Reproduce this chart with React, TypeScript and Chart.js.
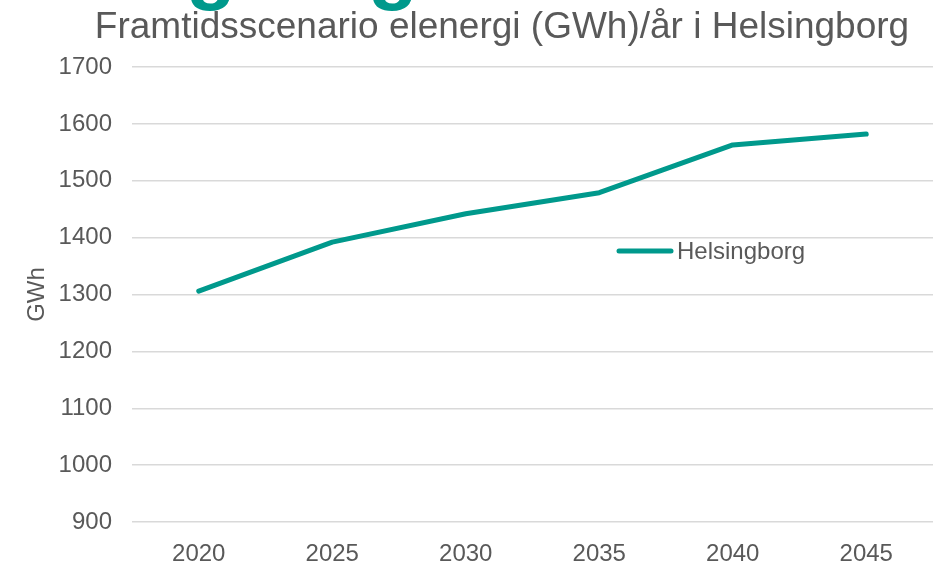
import React, { useEffect, useRef } from "react";
import { Chart, registerables } from "chart.js";

Chart.register(...registerables);

const years: string[] = ["2020", "2025", "2030", "2035", "2040", "2045"];
const helsingborg: number[] = [1306, 1392, 1442, 1479, 1563, 1582];
const seriesLabel = "Helsingborg";
const titleText = "Framtidsscenario elenergi (GWh)/år i Helsingborg";
const yAxisTitle = "GWh";
const yMin = 900;
const yMax = 1700;
const yStep = 100;
const backgroundGlyphs: string[] = ["g", "g"];

const FONT = "'Liberation Sans', Arial, sans-serif";
const TEXT = "#595959";
const TEAL = "#00998C";

const decorPlugin = {
  id: "decor",
  beforeDraw(chart: any) {
    const ctx = chart.ctx as CanvasRenderingContext2D;
    ctx.save();
    ctx.fillStyle = TEAL;
    ctx.font = `bold 82px ${FONT}`;
    ctx.textAlign = "center";
    ctx.textBaseline = "alphabetic";
    const xs = [211, 393];
    backgroundGlyphs.forEach((g, i) => ctx.fillText(g, xs[i], -6));
    ctx.fillStyle = TEXT;
    ctx.font = `37px ${FONT}`;
    ctx.fillText(titleText, 502, 38);
    ctx.restore();
  },
  afterDatasetsDraw(chart: any) {
    const ctx = chart.ctx as CanvasRenderingContext2D;
    const ds = chart.data.datasets[0];
    ctx.save();
    ctx.strokeStyle = ds.borderColor;
    ctx.lineWidth = 5;
    ctx.lineCap = "round";
    ctx.beginPath();
    ctx.moveTo(619, 251);
    ctx.lineTo(671, 251);
    ctx.stroke();
    ctx.fillStyle = TEXT;
    ctx.font = `24px ${FONT}`;
    ctx.textAlign = "left";
    ctx.textBaseline = "middle";
    ctx.fillText(ds.label, 677, 252);
    ctx.restore();
  },
};

export default function App() {
  const ref = useRef<HTMLCanvasElement | null>(null);
  useEffect(() => {
    if (!ref.current) return;
    const chart = new Chart(ref.current, {
      type: "line",
      data: {
        labels: years,
        datasets: [
          {
            label: seriesLabel,
            data: helsingborg,
            borderColor: TEAL,
            backgroundColor: TEAL,
            borderWidth: 5,
            pointRadius: 0,
            tension: 0,
            borderCapStyle: "round",
            borderJoinStyle: "round",
          },
        ],
      },
      options: {
        animation: false,
        responsive: false,
        devicePixelRatio: 1,
        layout: { padding: { top: 67, right: -3, bottom: 0, left: 0 } },
        plugins: {
          legend: { display: false },
          title: { display: false },
          tooltip: { enabled: false },
        },
        scales: {
          x: {
            offset: true,
            afterFit: (s: any) => {
              s.height = 40;
            },
            grid: { display: false },
            border: { display: false },
            ticks: { color: TEXT, font: { family: FONT, size: 24 }, padding: 10, maxRotation: 0 },
          },
          y: {
            min: yMin,
            max: yMax,
            afterFit: (s: any) => {
              s.width = 132;
            },
            grid: { color: "#d9d9d9", lineWidth: 1.5, drawTicks: false },
            border: { display: false },
            ticks: {
              stepSize: yStep,
              color: TEXT,
              font: { family: FONT, size: 24 },
              padding: 20,
              callback: (v: any) => String(v),
            },
            title: {
              display: true,
              text: yAxisTitle,
              color: TEXT,
              font: { family: FONT, size: 24 },
              padding: { top: 23, bottom: 0 },
            },
          },
        },
      },
      plugins: [decorPlugin],
    });
    return () => chart.destroy();
  }, []);
  return (
    <div style={{ position: "absolute", left: 0, top: 0, width: 933, height: 562, background: "#fff", overflow: "hidden" }}>
      <canvas ref={ref} width={933} height={562} style={{ display: "block" }} />
    </div>
  );
}
